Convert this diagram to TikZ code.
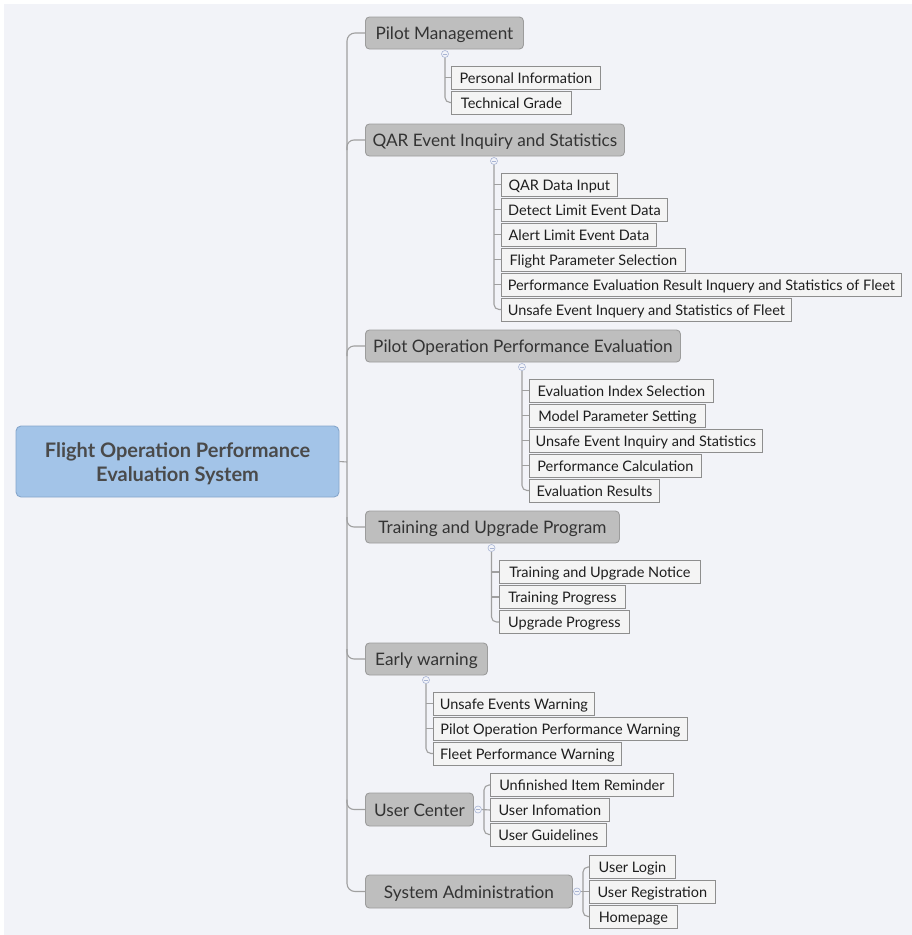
\documentclass[tikz,border=0pt]{standalone}
\usepackage{fontspec}
\setmainfont{Lato}
\definecolor{bgcol}{HTML}{F2F3F8}
\definecolor{linkcol}{HTML}{A0A0A0}
\definecolor{topicfill}{HTML}{BEBEBE}
\definecolor{topicborder}{HTML}{9C9C9C}
\definecolor{topictext}{HTML}{333333}
\definecolor{leaffill}{HTML}{F4F4F4}
\definecolor{leafborder}{HTML}{8E8E8E}
\definecolor{leaftext}{HTML}{1E1E1E}
\definecolor{rootfill}{HTML}{A3C4E8}
\definecolor{rootborder}{HTML}{86A6CB}
\definecolor{roottext}{HTML}{4A4A4A}
\definecolor{markcol}{HTML}{A8B4D4}
\tikzset{
  rootbox/.style={draw=rootborder, fill=rootfill, rounded corners=5pt, line width=0.9pt,
    inner sep=0pt},
  roottxt/.style={align=center, text=roottext, inner sep=0pt,
    font=\fontsize{20}{24}\selectfont\bfseries},
  topic/.style={draw=topicborder, fill=topicfill, rounded corners=4pt, line width=0.9pt,
    minimum height=32pt, anchor=west, inner sep=0pt, text=topictext,
    text height=16pt, text depth=3pt,
    font=\fontsize{17.2}{20}\selectfont},
  leaf/.style={draw=leafborder, fill=leaffill, line width=0.8pt, minimum height=23pt,
    anchor=west, inner sep=0pt, text=leaftext, text height=13pt, text depth=2pt,
    font=\fontsize{14.5}{16}\selectfont},
  link/.style={draw=linkcol, line width=1.1pt, rounded corners=7pt},
  straight/.style={draw=linkcol, line width=1.1pt},
  marker/.style={circle, draw=markcol, fill=bgcol, minimum size=7pt, inner sep=0pt,
    line width=0.6pt,
    path picture={\draw[markcol, line width=0.6pt]
      ([xshift=-2pt]path picture bounding box.center) --
      ([xshift=2pt]path picture bounding box.center);}}
}
\begin{document}
\begin{tikzpicture}[x=1pt, y=-1pt]
\useasboundingbox (0,0) rectangle (912,935);
\fill[bgcol] (4,4) rectangle (912,935);

% root
\node[rootbox, minimum width=323pt, minimum height=71pt,
  label={[roottxt, yshift=-2.5pt]center:{Flight Operation Performance\\Evaluation System}}]
  (root) at (177.5,461.5) {};
\coordinate (tr) at (347,462);

% main topics
\node[topic, minimum width=158pt] (pm) at (365,33) {Pilot Management};
\node[topic, minimum width=259pt] (qar) at (365,140) {QAR Event Inquiry and Statistics};
\node[topic, minimum width=315pt] (pope) at (365,346) {Pilot Operation Performance Evaluation};
\node[topic, minimum width=254pt] (tup) at (365,527) {Training and Upgrade Program};
\node[topic, minimum width=122pt] (ew) at (365,659) {Early warning};
\node[topic, minimum width=108pt, minimum height=33pt] (uc) at (365,809.5) {User Center};
\node[topic, minimum width=207pt, minimum height=33pt] (sa) at (365,891.5) {System Administration};

% trunk
\draw[link] (root.east) -- (tr);
\draw[link, rounded corners=8pt] (pm.west) -| (tr) |- (sa.west);
\draw[link] ([yshift=-10pt]tr |- qar.west) |- (qar.west);
\draw[link] ([yshift=-10pt]tr |- pope.west) |- (pope.west);
\draw[link] ([yshift=10pt]tr |- tup.west) |- (tup.west);
\draw[link] ([yshift=10pt]tr |- ew.west) |- (ew.west);
\draw[link] ([yshift=10pt]tr |- uc.west) |- (uc.west);

% Pilot Management children
\node[leaf, minimum width=149pt] (pm1) at (451,77.5) {Personal Information};
\node[leaf, minimum width=120pt] (pm2) at (451,102.5) {Technical Grade};
\node[marker] (m1) at (445,54) {};
\draw[straight] (m1.south |- pm1.west) -- (pm1.west);
\draw[link, rounded corners=5pt] (m1.south) |- (pm2.west);

% QAR children
\node[leaf, minimum width=116pt] (q1) at (501,184.5) {QAR Data Input};
\node[leaf, minimum width=166pt] (q2) at (501,209.5) {Detect Limit Event Data};
\node[leaf, minimum width=155pt] (q3) at (501,234.5) {Alert Limit Event Data};
\node[leaf, minimum width=184pt] (q4) at (501,259.5) {Flight Parameter Selection};
\node[leaf, minimum width=400pt] (q5) at (501,284.5) {Performance Evaluation Result Inquery and Statistics of Fleet};
\node[leaf, minimum width=290pt] (q6) at (501,309.5) {Unsafe Event Inquery and Statistics of Fleet};
\node[marker] (m2) at (494,161) {};
\foreach \c in {q1,q2,q3,q4,q5}{\draw[straight] (m2.south |- \c.west) -- (\c.west);}
\draw[link, rounded corners=5pt] (m2.south) |- (q6.west);

% Pilot Operation Performance Evaluation children
\node[leaf, minimum width=184pt] (p1) at (529,390.5) {Evaluation Index Selection};
\node[leaf, minimum width=176pt] (p2) at (529,415.5) {Model Parameter Setting};
\node[leaf, minimum width=233pt] (p3) at (529,440.5) {Unsafe Event Inquiry and Statistics};
\node[leaf, minimum width=172pt] (p4) at (529,465.5) {Performance Calculation};
\node[leaf, minimum width=130pt] (p5) at (529,490.5) {Evaluation Results};
\node[marker] (m3) at (522,367) {};
\foreach \c in {p1,p2,p3,p4}{\draw[straight] (m3.south |- \c.west) -- (\c.west);}
\draw[link, rounded corners=5pt] (m3.south) |- (p5.west);

% Training and Upgrade Program children
\node[leaf, minimum width=201pt] (t1) at (499,572) {Training and Upgrade Notice};
\node[leaf, minimum width=126pt] (t2) at (499,597) {Training Progress};
\node[leaf, minimum width=130pt] (t3) at (499,622) {Upgrade Progress};
\node[marker] (m4) at (491.5,548) {};
\foreach \c in {t1,t2}{\draw[straight] (m4.south |- \c.west) -- (\c.west);}
\draw[link, rounded corners=5pt] (m4.south) |- (t3.west);

% Early warning children
\node[leaf, minimum width=161pt] (e1) at (433,703.5) {Unsafe Events Warning};
\node[leaf, minimum width=254pt] (e2) at (433,728.5) {Pilot Operation Performance Warning};
\node[leaf, minimum width=188pt] (e3) at (433,753.5) {Fleet Performance Warning};
\node[marker] (m5) at (426,680) {};
\foreach \c in {e1,e2}{\draw[straight] (m5.south |- \c.west) -- (\c.west);}
\draw[link, rounded corners=5pt] (m5.south) |- (e3.west);

% User Center children
\node[leaf, minimum width=183pt] (u1) at (490,785) {Unfinished Item Reminder};
\node[leaf, minimum width=119pt] (u2) at (490,810) {User Infomation};
\node[leaf, minimum width=116pt] (u3) at (490,834.5) {User Guidelines};
\node[marker] (m6) at (478,809.5) {};
\coordinate (j6) at (484,809.5);
\draw[straight] (m6.east) -- (u2.west);
\draw[link, rounded corners=5pt] (j6) |- (u1.west);
\draw[link, rounded corners=5pt] (j6) |- (u3.west);

% System Administration children
\node[leaf, minimum width=86pt] (s1) at (589,867) {User Login};
\node[leaf, minimum width=126pt] (s2) at (589,891.5) {User Registration};
\node[leaf, minimum width=88pt] (s3) at (589,916.5) {Homepage};
\node[marker] (m7) at (577,891.5) {};
\coordinate (j7) at (583,891.5);
\draw[straight] (m7.east) -- (s2.west);
\draw[link, rounded corners=5pt] (j7) |- (s1.west);
\draw[link, rounded corners=5pt] (j7) |- (s3.west);
\end{tikzpicture}
\end{document}
